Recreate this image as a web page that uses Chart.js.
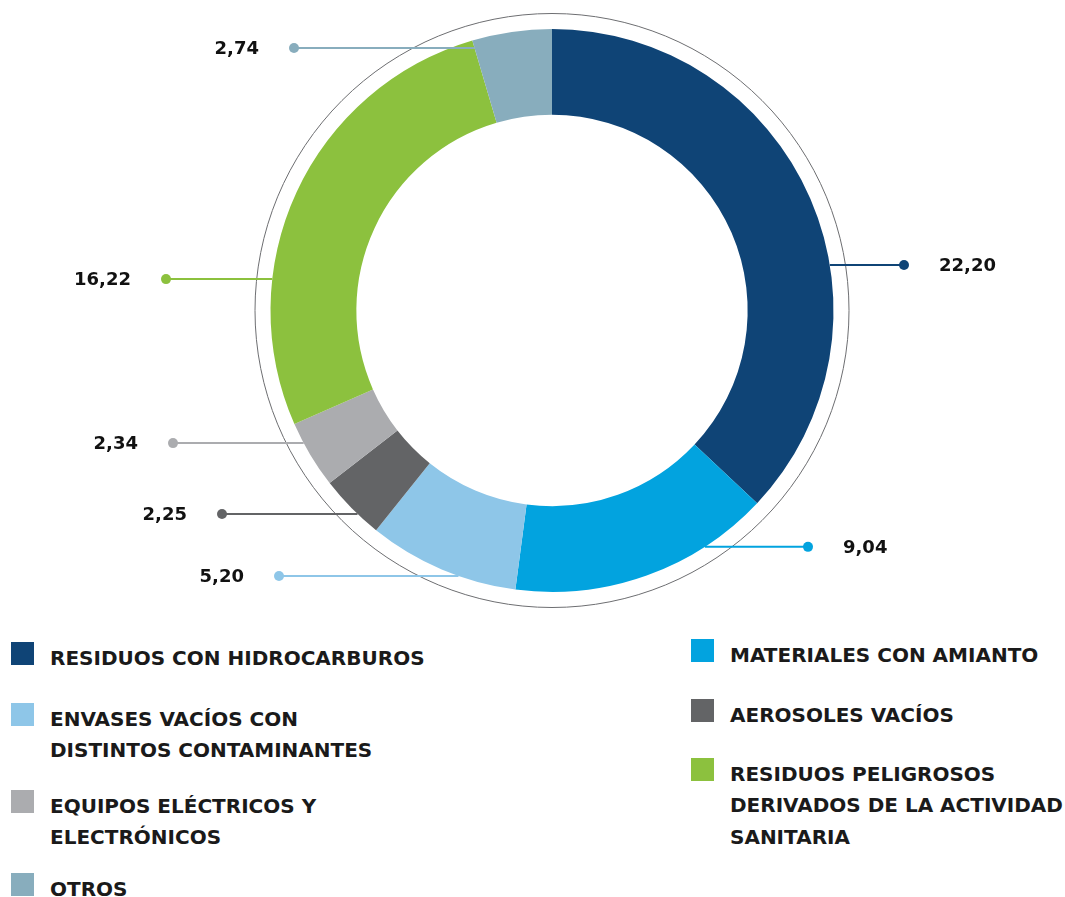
<!DOCTYPE html>
<html><head><meta charset="utf-8">
<script src="https://cdn.jsdelivr.net/npm/chart.js@4.4.1/dist/chart.umd.min.js"></script>
<style>
html,body{margin:0;padding:0;background:#fff;}
#wrap{position:relative;width:1065px;height:897px;overflow:hidden;}
#chartBox{position:absolute;left:0;top:0;width:1065px;height:621px;}
.lg{position:absolute;font-family:"DejaVu Sans",sans-serif;font-weight:bold;font-size:20px;line-height:31.5px;color:#1a1a1a;white-space:nowrap;}
.sw{position:absolute;width:23px;height:23px;}
</style></head><body>
<div id="wrap"><div id="chartBox"><canvas id="c" width="1065" height="621"></canvas></div><div id="legend"></div></div>
<script>
// ---- data ----
const categories = ["RESIDUOS CON HIDROCARBUROS","MATERIALES CON AMIANTO","ENVASES VACÍOS CON DISTINTOS CONTAMINANTES","AEROSOLES VACÍOS","EQUIPOS ELÉCTRICOS Y ELECTRÓNICOS","RESIDUOS PELIGROSOS DERIVADOS DE LA ACTIVIDAD SANITARIA","OTROS"];
const values = [22.20, 9.04, 5.20, 2.25, 2.34, 16.22, 2.74];
const valueLabels = ["22,20","9,04","5,20","2,25","2,34","16,22","2,74"];
const colors = ["#0f4476","#02a3df","#8ec6e8","#636466","#abacaf","#8cc13e","#88adbd"];
const legendLines = [["RESIDUOS CON HIDROCARBUROS"],["MATERIALES CON AMIANTO"],["ENVASES VACÍOS CON","DISTINTOS CONTAMINANTES"],["AEROSOLES VACÍOS"],["EQUIPOS ELÉCTRICOS Y","ELECTRÓNICOS"],["RESIDUOS PELIGROSOS","DERIVADOS DE LA ACTIVIDAD","SANITARIA"],["OTROS"]];

// ---- layout of callouts and legend ----
const calloutAngles = [80.7, 147.1, 199.4, 223.7, 241.9, 276.4, 338.8]; // deg from top, clockwise
const calloutDotX = [904, 808, 279, 222, 173, 166, 294];
const calloutToSegmentEdge = [false,false,false,false,false,false,true];
const legendLayout = [
  {x:11, top:642},{x:691, top:639},{x:11, top:703},{x:691, top:699},
  {x:11, top:790},{x:691, top:758},{x:11, top:873}
];

// legend
const lg = document.getElementById('legend');
legendLines.forEach((lines,i)=>{
  const L = legendLayout[i];
  const sw = document.createElement('div'); sw.className='sw';
  sw.style.left=L.x+'px'; sw.style.top=L.top+'px'; sw.style.background=colors[i];
  lg.appendChild(sw);
  const t = document.createElement('div'); t.className='lg';
  t.style.left=(L.x+39)+'px'; t.style.top=(L.top+0.5)+'px';
  t.innerHTML = lines.join('<br>');
  lg.appendChild(t);
});

const ringPlugin = {
  id:'ring',
  beforeDatasetsDraw(chart){
    const a = chart.getDatasetMeta(0).data[0];
    const ctx = chart.ctx;
    ctx.save();
    ctx.beginPath();
    ctx.arc(a.x, a.y, a.outerRadius + 15.5, 0, Math.PI*2);
    ctx.strokeStyle = '#6d6e71'; ctx.lineWidth = 1; ctx.stroke();
    ctx.restore();
  },
  afterDatasetsDraw(chart){
    const meta = chart.getDatasetMeta(0);
    const ctx = chart.ctx;
    ctx.save();
    meta.data.forEach((arc,i)=>{
      const th = calloutAngles[i]*Math.PI/180;
      const R = arc.outerRadius;
      const y = arc.y - R*Math.cos(th);
      let x0 = arc.x + R*Math.sin(th);
      if (calloutToSegmentEdge[i]) {
        const a = arc.startAngle;
        x0 = arc.x + (y-arc.y)*Math.cos(a)/Math.sin(a);
      }
      const xd = calloutDotX[i];
      ctx.strokeStyle = colors[i]; ctx.fillStyle = colors[i];
      ctx.lineWidth = 2;
      ctx.beginPath(); ctx.moveTo(x0, y); ctx.lineTo(xd, y); ctx.stroke();
      ctx.beginPath(); ctx.arc(xd, y, 5, 0, Math.PI*2); ctx.fill();
      ctx.fillStyle = '#111';
      ctx.font = 'bold 18px "DejaVu Sans"';
      ctx.textBaseline = 'middle';
      const right = xd > arc.x;
      ctx.textAlign = right ? 'left' : 'right';
      ctx.fillText(valueLabels[i], right ? xd + 35 : xd - 35, y + 1);
    });
    ctx.restore();
  }
};

new Chart(document.getElementById('c'), {
  type:'doughnut',
  data:{labels:categories, datasets:[{data:values, backgroundColor:colors, borderWidth:0}]},
  options:{
    responsive:false, animation:false, devicePixelRatio:1,
    cutout:'69.5%',
    layout:{padding:{left:39,right:0,top:29,bottom:29}},
    plugins:{legend:{display:false}, tooltip:{enabled:false}}
  },
  plugins:[ringPlugin]
});
</script>
</body></html>
